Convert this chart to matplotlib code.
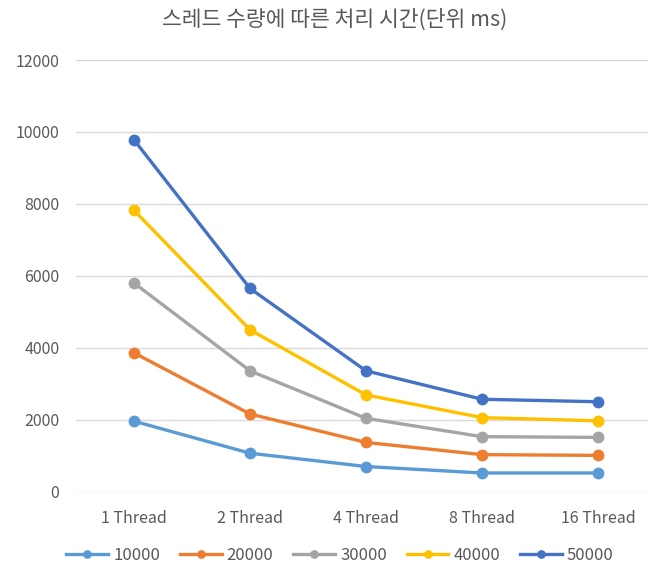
import matplotlib
matplotlib.use("Agg")
import matplotlib.pyplot as plt

plt.rcParams['font.family'] = ['Noto Sans CJK KR', 'DejaVu Sans']

categories = ["1 Thread", "2 Thread", "4 Thread", "8 Thread", "16 Thread"]
series_names = ["10000", "20000", "30000", "40000", "50000"]
s10000 = [1960, 1070, 700, 520, 520]
s20000 = [3860, 2160, 1370, 1030, 1010]
s30000 = [5800, 3360, 2040, 1530, 1510]
s40000 = [7820, 4500, 2690, 2060, 1970]
s50000 = [9780, 5650, 3360, 2570, 2500]
series_values = [s10000, s20000, s30000, s40000, s50000]
colors = ["#5B9BD5", "#ED7D31", "#A5A5A5", "#FFC000", "#4472C4"]
yticks = [0, 2000, 4000, 6000, 8000, 10000, 12000]

W, H = 648, 565
fig = plt.figure(figsize=(W / 100, H / 100), dpi=100)
left, right, top, bottom = 76, 656, 60, 491.7
ax = fig.add_axes([left / W, 1 - bottom / H, (right - left) / W, (bottom - top) / H])

x = range(len(categories))
for name, vals, c in zip(series_names, series_values, colors):
    ax.plot(x, vals, color=c, lw=2.4, marker='o', markersize=7.5,
            markeredgecolor=c, label=name, solid_joinstyle='round')

ax.set_xlim(-0.5, len(categories) - 0.5)
ax.set_ylim(0, 12000)
ax.set_yticks(yticks)
ax.set_yticklabels([str(v) for v in yticks])
ax.set_xticks(list(x))
ax.set_xticklabels(categories)
ax.grid(axis='y', color='#D9D9D9', lw=1)
ax.set_axisbelow(True)
for s in ax.spines.values():
    s.set_visible(False)
ax.tick_params(axis='both', length=0, labelsize=11.5, labelcolor='#595959')
ax.tick_params(axis='y', pad=12)
ax.tick_params(axis='x', pad=13)

fig.text(335 / W, 1 - 20 / H, "스레드 수량에 따른 처리 시간(단위 ms)", ha='center', va='center',
         fontsize=15.5, color='#595959')

handles, labels = ax.get_legend_handles_labels()
fig.legend(handles, labels, loc='center', bbox_to_anchor=(340 / W, 1 - 555 / H), ncol=5,
           frameon=False, fontsize=12, handlelength=2.5, columnspacing=1.2,
           handletextpad=0.3, labelcolor='#595959', markerscale=0.7)

fig.savefig("out.png", dpi=100, facecolor='white')
